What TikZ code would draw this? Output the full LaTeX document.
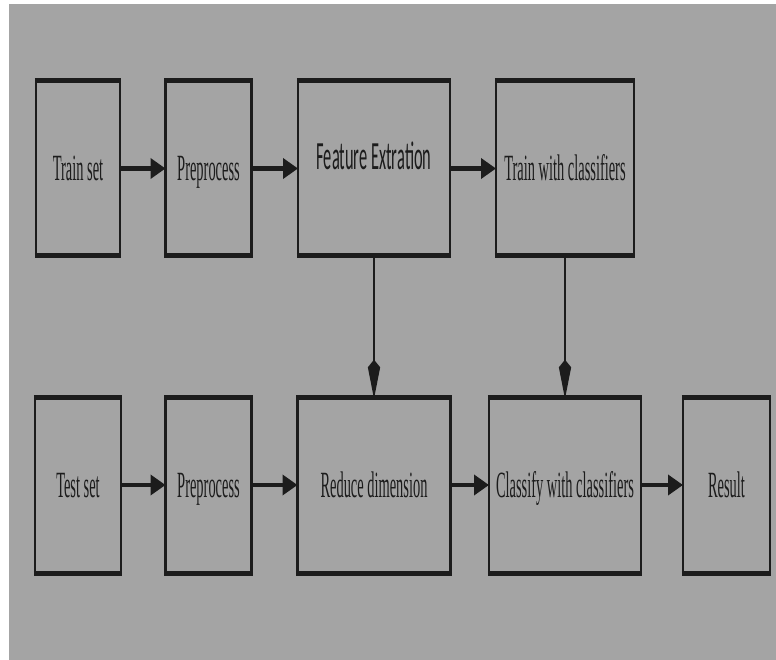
\documentclass[tikz,border=0pt]{standalone}
\usepackage{fontspec}
\setmainfont{Liberation Serif}
\newfontfamily\featfont{Carlito}
\usetikzlibrary{arrows.meta}
\definecolor{bg}{HTML}{A4A4A4}
\definecolor{ink}{HTML}{1C1C1C}
\newcommand{\sq}[1]{\scalebox{0.39}[1]{#1}}
\begin{document}
\begin{tikzpicture}[x=1pt,y=-1pt,
 box/.style={draw=ink, line width=2.5pt, fill=bg, rectangle, inner sep=0pt, outer sep=0pt,
   text=ink, font=\fontsize{37}{37}\selectfont, text height=24.5pt, text depth=0pt},
 harrow/.style={draw=ink, line width=4.5pt, -{Triangle[length=15pt,width=20pt]}},
 varrow/.style={draw=ink, line width=2pt, -{Stealth[length=32pt,width=11pt,inset=-8pt]}},
 edge/.style={draw=ink, line width=5pt}]
\useasboundingbox (0,0) rectangle (776,660);
\fill[white] (0,0) rectangle (776,660);
\fill[bg] (9,4) rectangle (776,660);

% row 1
\node[box, minimum width=84pt, minimum height=175pt] (trainset) at (78,168.5) {\sq{Train set}};
\node[box, minimum width=86pt, minimum height=175pt] (prep1) at (208.5,168.5) {\sq{Preprocess}};
\node[box, minimum width=152pt, minimum height=175pt,
      font=\featfont\fontsize{40}{40}\selectfont, text height=25.8pt, text depth=22.8pt] (feat) at (374,168.5) {\scalebox{0.41}[1]{Feature Extration}};
\node[box, minimum width=138pt, minimum height=175pt] (trainclf) at (565,168.5) {\sq{Train with classifiers}};

% row 2
\node[box, minimum width=86pt, minimum height=176pt] (testset) at (78,485) {\sq{Test set}};
\node[box, minimum width=86pt, minimum height=176pt] (prep2) at (208.5,485) {\sq{Preprocess}};
\node[box, minimum width=153pt, minimum height=176pt] (reduce) at (374,485) {\sq{Reduce dimension}};
\node[box, minimum width=152pt, minimum height=176pt] (classify) at (565,485) {\sq{Classify with classifiers}};
\node[box, minimum width=87pt, minimum height=176pt] (result) at (726.5,485) {\sq{Result}};

% thick top and bottom edges
\foreach \n in {trainset,prep1,feat,trainclf,testset,prep2,reduce,classify,result}{
  \draw[edge] ([xshift=-1.25pt]\n.north west) -- ([xshift=1.25pt]\n.north east);
  \draw[edge] ([xshift=-1.25pt]\n.south west) -- ([xshift=1.25pt]\n.south east);
}

% connectors
\draw[harrow] (trainset) -- (prep1);
\draw[harrow] (prep1) -- (feat);
\draw[harrow] (feat) -- (trainclf);
\draw[harrow] (testset) -- (prep2);
\draw[harrow] (prep2) -- (reduce);
\draw[harrow] (reduce) -- (classify);
\draw[harrow] (classify) -- (result);
\draw[varrow] ([yshift=2.5pt]feat.south) -- ([yshift=-2.5pt]reduce.north);
\draw[varrow] ([yshift=2.5pt]trainclf.south) -- ([yshift=-2.5pt]classify.north);
\end{tikzpicture}
\end{document}
